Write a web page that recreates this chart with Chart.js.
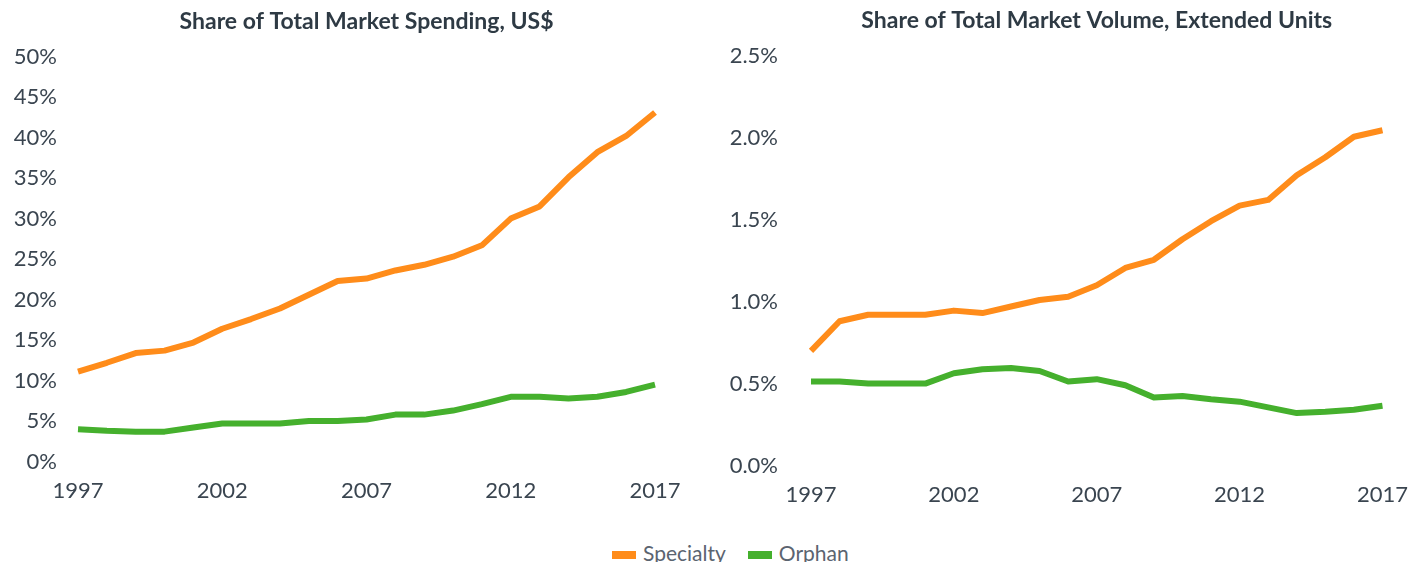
<!DOCTYPE html>
<html>
<head>
<meta charset="utf-8">
<script src="https://cdn.jsdelivr.net/npm/chart.js@4.4.1/dist/chart.umd.min.js"></script>
<style>
  body { margin:0; background:#fff; width:1424px; height:562px; overflow:hidden; position:relative; font-family:Lato, sans-serif; }
  .box { position:absolute; top:0; }
  #legend { position:absolute; left:612px; top:540px; white-space:nowrap; font-size:21px; color:#5b6470; }
  #legend span.item { display:inline-block; margin-right:22px; }
  #legend i { display:inline-block; width:24px; height:8px; vertical-align:middle; margin-right:7px; position:relative; top:-1px; }
</style>
</head>
<body>
<div class="box" style="left:0;width:700px;height:522px"><canvas id="spend"></canvas></div>
<div class="box" style="left:700px;width:724px;height:526px"><canvas id="volume"></canvas></div>
<div id="legend">
  <span class="item"><i style="background:#ff8c1a"></i>Specialty</span><span class="item"><i style="background:#45b02d"></i>Orphan</span>
</div>
<script>
const years = ['1997','1998','1999','2000','2001','2002','2003','2004','2005','2006','2007',
  '2008','2009','2010','2011','2012','2013','2014','2015','2016','2017'];
const shownYears = ['1997','2002','2007','2012','2017'];

// share of total market spending, US$ (%)
const spendSpecialty = [11.1,12.2,13.4,13.7,14.7,16.4,17.6,18.9,20.6,22.3,22.6,23.6,24.3,25.3,26.7,30.0,31.5,35.1,38.2,40.2,43.1];
const spendOrphan = [4.0,3.8,3.7,3.7,4.2,4.7,4.7,4.7,5.0,5.0,5.2,5.8,5.8,6.3,7.1,8.0,8.0,7.8,8.0,8.6,9.5];

// share of total market volume, extended units (%)
const volSpecialty = [0.70,0.88,0.92,0.92,0.92,0.945,0.93,0.97,1.01,1.03,1.10,1.205,1.255,1.38,1.49,1.585,1.62,1.77,1.88,2.005,2.045];
const volOrphan = [0.513,0.513,0.50,0.50,0.50,0.563,0.587,0.595,0.577,0.513,0.527,0.49,0.415,0.425,0.405,0.39,0.355,0.32,0.328,0.34,0.365];

const orange = '#ff8c1a', green = '#45b02d';
const tickColor = '#3a4550';

function makeChart(id, title, specialty, orphan, yMax, yStep, fmt, opts) {
  new Chart(document.getElementById(id), {
    type: 'line',
    data: {
      labels: years,
      datasets: [
        { label: 'Specialty', data: specialty, borderColor: orange, backgroundColor: orange },
        { label: 'Orphan', data: orphan, borderColor: green, backgroundColor: green }
      ]
    },
    options: {
      responsive: true,
      maintainAspectRatio: false,
      animation: false,
      elements: {
        line: { borderWidth: 6, tension: 0, borderJoinStyle: 'round' },
        point: { radius: 0, hoverRadius: 0 }
      },
      layout: { padding: { left: 0, right: opts.padRight, top: 0, bottom: 2 } },
      plugins: {
        legend: { display: false },
        tooltip: { enabled: false },
        title: {
          display: true, text: title, fullSize: false,
          color: '#2e3a44',
          font: { family: 'Lato', size: 23, weight: 'bold' },
          padding: { top: opts.titleTop, bottom: opts.titleBottom }
        }
      },
      scales: {
        x: {
          offset: false,
          grid: { display: false, drawTicks: false },
          border: { display: false },
          ticks: {
            color: tickColor, padding: 16, maxRotation: 0, autoSkip: false,
            font: { family: 'Lato', size: 22 },
            callback: function (v, i) { const y = years[i]; return shownYears.includes(y) ? y : null; }
          }
        },
        y: {
          min: 0, max: yMax,
          grid: { display: false, drawTicks: false },
          border: { display: false },
          afterFit: function (s) { s.width = opts.axisWidth; },
          ticks: {
            stepSize: yStep, color: tickColor, padding: opts.tickPad,
            font: { family: 'Lato', size: 22 },
            callback: fmt
          }
        }
      }
    }
  });
}

makeChart('spend', 'Share of Total Market Spending, US$', spendSpecialty, spendOrphan, 50, 5,
  v => v + '%', { padRight: 45, axisWidth: 78, tickPad: 21, titleTop: 8, titleBottom: 21 });
makeChart('volume', 'Share of Total Market Volume, Extended Units', volSpecialty, volOrphan, 2.5, 0.5,
  v => v.toFixed(1) + '%', { padRight: 28, axisWidth: 111, tickPad: 33, titleTop: 7, titleBottom: 21 });
</script>
</body>
</html>
